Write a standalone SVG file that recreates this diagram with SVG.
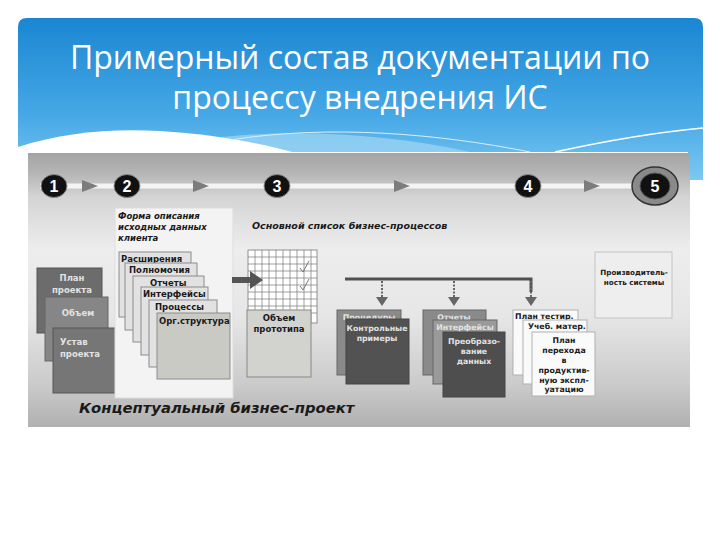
<svg xmlns="http://www.w3.org/2000/svg" width="720" height="540" viewBox="0 0 720 540">
<defs>
<linearGradient id="hdr" x1="0" y1="0" x2="0" y2="1">
<stop offset="0" stop-color="#1a86d2"/>
<stop offset="0.6" stop-color="#46a8e6"/>
<stop offset="1" stop-color="#7cc8f0"/>
</linearGradient>
<linearGradient id="pnl" x1="0" y1="0" x2="0" y2="1">
<stop offset="0" stop-color="#a4a4a4"/>
<stop offset="0.07" stop-color="#b4b4b4"/>
<stop offset="0.16" stop-color="#d4d4d4"/>
<stop offset="0.35" stop-color="#ededed"/>
<stop offset="0.6" stop-color="#e6e6e6"/>
<stop offset="0.85" stop-color="#cacaca"/>
<stop offset="1" stop-color="#b0b0b0"/>
</linearGradient>
<style>
.t{font-family:"DejaVu Sans","Liberation Sans",sans-serif;font-weight:bold;font-size:8.5px;}
.t.s{font-size:7.8px;}
.t.xs{font-size:7.2px;}
.lt{fill:#e2e2e2;}
.dk{fill:#1a1a1a;}
.it{font-family:"DejaVu Sans","Liberation Sans",sans-serif;font-weight:bold;font-style:italic;fill:#1a1a1a;}
.num{font-family:"Liberation Sans",Arial,sans-serif;font-weight:bold;font-size:16px;fill:#fff;text-anchor:middle;}
.dot{fill:#111;stroke:#8a8a8a;stroke-width:1;}
.tri{fill:#7c7c7c;}
.card{fill:#e2e2e2;stroke:#8c8c8c;stroke-width:1;}
.wc{fill:#fafafa;stroke:#b0b0b0;stroke-width:1;}
.grid{stroke:#777;stroke-width:0.7;fill:none;}
.dash{stroke:#666;stroke-width:2;stroke-dasharray:2 1.5;fill:none;}
.ttl{font-family:"Open Sans","Noto Sans",sans-serif;font-size:32px;fill:#fff;text-anchor:middle;}
</style>
</defs>

<g id="header">
<path d="M18,152 V27 Q18,18 27,18 H694 Q703,18 703,27 V180 H688 V152 Z" fill="url(#hdr)"/>
<path d="M200,140 C280,128 380,132 470,152 L200,152 Z" fill="#9fd6f4" opacity="0.7"/>
<path d="M18,152 L18,147 C60,133 110,128 160,131 C210,134 255,142 292,152 Z" fill="#ffffff"/>
<path d="M555,152 C610,140 660,132 703,128" stroke="#ffffff" stroke-width="1.5" fill="none"/>
<path d="M230,140 C330,124 440,134 530,152" stroke="#d8eefa" stroke-width="1" fill="none"/>
<text class="ttl" x="360" y="69">Примерный состав документации по</text>
<text class="ttl" x="360" y="109">процессу внедрения ИС</text>
</g>

<g id="panel">
<rect x="28" y="153" width="662" height="274" fill="url(#pnl)"/>
</g>

<g id="timeline">
<line x1="40" y1="186" x2="640" y2="186" stroke="#f4f4f4" stroke-width="5"/>
<polygon class="tri" points="82,180 98,186 82,192"/>
<polygon class="tri" points="193,180 209,186 193,192"/>
<polygon class="tri" points="394,180 410,186 394,192"/>
<polygon class="tri" points="584,180 600,186 584,192"/>
</g>

<g id="step1">
<ellipse class="dot" cx="54" cy="186" rx="13" ry="11.5"/>
<text class="num" x="54" y="192">1</text>
</g>
<g id="step2">
<ellipse class="dot" cx="127" cy="186" rx="13" ry="11.5"/>
<text class="num" x="127" y="192">2</text>
</g>
<g id="step3">
<ellipse class="dot" cx="277" cy="186" rx="13" ry="11.5"/>
<text class="num" x="277" y="192">3</text>
</g>
<g id="step4">
<ellipse class="dot" cx="528" cy="186" rx="13" ry="11.5"/>
<text class="num" x="528" y="192">4</text>
</g>
<g id="step5">
<ellipse cx="655" cy="186" rx="23" ry="19" fill="#8a8a8a" stroke="#333" stroke-width="1.5"/>
<ellipse cx="655" cy="186" rx="15" ry="13" fill="#111" stroke="#555" stroke-width="1"/>
<text class="num" x="655" y="192">5</text>
</g>

<g id="project-docs">
<rect x="37" y="268" width="65" height="65" fill="#6c6c6c" stroke="#555" stroke-width="1"/>
<text class="t lt" x="72" y="281" text-anchor="middle">План</text>
<text class="t lt" x="72" y="293" text-anchor="middle">проекта</text>
<rect x="45" y="297" width="63" height="64" fill="#868686" stroke="#666" stroke-width="1"/>
<text class="t lt" x="78" y="316" text-anchor="middle">Объем</text>
<rect x="53" y="328" width="64" height="65" fill="#767676" stroke="#555" stroke-width="1"/>
<text class="t lt" x="60" y="345">Устав</text>
<text class="t lt" x="60" y="357">проекта</text>
</g>

<g id="client-form">
<rect x="115" y="208" width="118" height="190" fill="#f3f3f3" stroke="#ddd" stroke-width="1"/>
<text class="it" font-size="8.5" x="118" y="219">Форма описания</text>
<text class="it" font-size="8.5" x="118" y="230">исходных данных</text>
<text class="it" font-size="8.5" x="118" y="241">клиента</text>
<rect class="card" x="119" y="252" width="72" height="65"/>
<text class="t dk" x="121" y="262">Расширения</text>
<rect class="card" x="125" y="263" width="72" height="67"/>
<text class="t dk" x="129" y="273">Полномочия</text>
<rect class="card" x="133" y="276" width="71" height="66"/>
<text class="t dk" x="150" y="286">Отчеты</text>
<rect class="card" x="141" y="287" width="67" height="68"/>
<text class="t dk" x="143" y="297">Интерфейсы</text>
<rect class="card" x="149" y="300" width="68" height="67"/>
<text class="t dk" x="155" y="310">Процессы</text>
<rect x="157" y="313" width="73" height="66" fill="#cacac4" stroke="#8c8c8c" stroke-width="1"/>
<text class="t dk" x="159" y="324">Орг.структура</text>
</g>

<g id="process-list">
<text class="it" font-size="9.5" x="252" y="229">Основной список бизнес-процессов</text>
<rect x="248" y="250" width="69" height="73" fill="#ffffff" stroke="#777" stroke-width="0.8"/>
<path class="grid" d="M255,250V323M262,250V323M269,250V323M276,250V323M283,250V323M290,250V323M297,250V323M304,250V323M311,250V323M248,257H317M248,264H317M248,271H317M248,278H317M248,285H317M248,292H317M248,299H317M248,306H317M248,313H317"/>
<path d="M300,268 L303,272 L309,261 M300,286 L303,290 L309,279" stroke="#777" stroke-width="1" fill="none"/>
<rect x="247" y="310" width="64" height="67" fill="#d2d2ce" stroke="#888" stroke-width="1"/>
<text class="t dk" x="279" y="321" text-anchor="middle">Объем</text>
<text class="t dk" x="279" y="332" text-anchor="middle">прототипа</text>
</g>

<g id="procedures">
<rect x="337" y="310" width="64" height="65" fill="#8a8a8a" stroke="#666" stroke-width="1"/>
<text class="t s lt" x="369" y="320" text-anchor="middle">Процедуры</text>
<rect x="346" y="319" width="63" height="65" fill="#525252" stroke="#444" stroke-width="1"/>
<text class="t s lt" x="377" y="331" text-anchor="middle">Контрольные</text>
<text class="t s lt" x="377" y="341" text-anchor="middle">примеры</text>
</g>

<g id="reports">
<rect x="423" y="310" width="63" height="65" fill="#8a8a8a" stroke="#666" stroke-width="1"/>
<text class="t s lt" x="454" y="320" text-anchor="middle">Отчеты</text>
<rect x="433" y="320" width="64" height="64" fill="#9a9a9a" stroke="#666" stroke-width="1"/>
<text class="t s lt" x="465" y="330" text-anchor="middle">Интерфейсы</text>
<rect x="443" y="332" width="62" height="65" fill="#4e4e4e" stroke="#444" stroke-width="1"/>
<text class="t s lt" x="474" y="344" text-anchor="middle">Преобразо-</text>
<text class="t s lt" x="474" y="354" text-anchor="middle">вание</text>
<text class="t s lt" x="474" y="364" text-anchor="middle">данных</text>
</g>

<g id="test-plan">
<rect class="wc" x="513" y="310" width="65" height="65"/>
<text class="t s dk" x="515" y="319">План тестир.</text>
<rect class="wc" x="523" y="320" width="64" height="64"/>
<text class="t s dk" x="528" y="329">Учеб. матер.</text>
<rect class="wc" x="532" y="332" width="63" height="64"/>
<text class="t s dk" x="564" y="343" text-anchor="middle">План</text>
<text class="t s dk" x="564" y="353" text-anchor="middle">перехода</text>
<text class="t s dk" x="564" y="363" text-anchor="middle">в</text>
<text class="t s dk" x="564" y="373" text-anchor="middle">продуктив-</text>
<text class="t s dk" x="564" y="383" text-anchor="middle">ную экспл-</text>
<text class="t s dk" x="564" y="392" text-anchor="middle">уатацию</text>
</g>

<g id="performance">
<rect x="595" y="252" width="77" height="66" fill="#eeeeee" stroke="#c4c4c4" stroke-width="1"/>
<text class="t xs dk" x="634" y="275" text-anchor="middle">Производитель-</text>
<text class="t xs dk" x="634" y="285" text-anchor="middle">ность системы</text>
</g>

<g id="concept">
<text class="it" font-size="14.8" x="79" y="413">Концептуальный бизнес-проект</text>
</g>

<g id="connectors">
<polygon points="232,277 250,277 250,271 263,280 250,289 250,283 232,283" fill="#555"/>
<polyline points="345,279 531,279 531,292" stroke="#505050" stroke-width="3" fill="none"/>
<line class="dash" x1="382" y1="281" x2="382" y2="298"/>
<line class="dash" x1="454" y1="281" x2="454" y2="298"/>
<line class="dash" x1="531" y1="281" x2="531" y2="298"/>
<polygon points="376,297 388,297 382,306" fill="#666"/>
<polygon points="448,297 460,297 454,306" fill="#666"/>
<polygon points="525,297 537,297 531,306" fill="#666"/>
</g>
</svg>
